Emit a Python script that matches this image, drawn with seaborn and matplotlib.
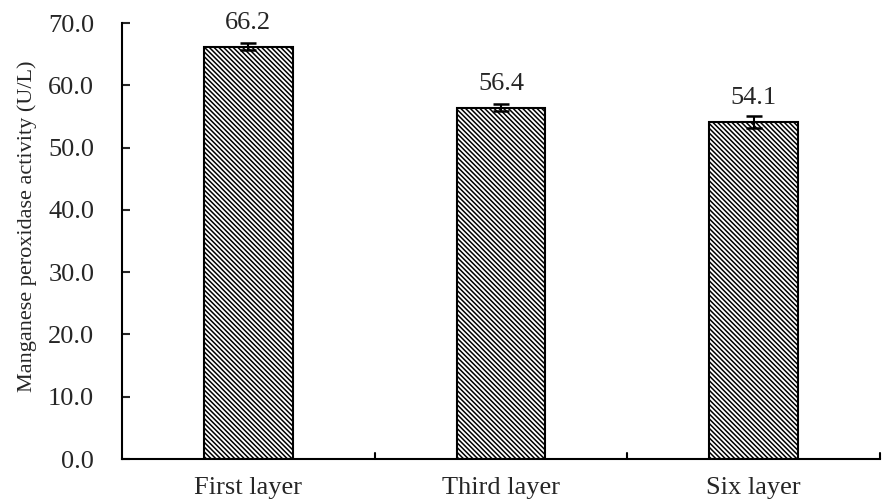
import matplotlib
matplotlib.use("Agg")
import matplotlib.pyplot as plt
import seaborn as sns
import pandas as pd
import numpy as np

categories = ["First layer", "Third layer", "Six layer"]
values = [66.2, 56.4, 54.1]
errors = [0.6, 0.6, 0.9]
yticks = [0, 10, 20, 30, 40, 50, 60, 70]

sns.set_style("white")
plt.rcParams['font.family'] = ['Liberation Serif', 'DejaVu Serif']
plt.rcParams['hatch.linewidth'] = 1.1

df = pd.DataFrame({"layer": categories, "activity": values})

fig = plt.figure(figsize=(8.88, 5.04), dpi=100)
ax = fig.add_axes([122/888, 1 - 459/504, 758/888, (459 - 23)/504])

sns.barplot(data=df, x="layer", y="activity", color="white", edgecolor="black",
            linewidth=1.5, width=0.35, ax=ax, errorbar=None)
for p in ax.patches:
    p.set_hatch("\\" * 7)
ax.errorbar(np.arange(len(values)), values, yerr=errors, fmt="none", ecolor="black",
            elinewidth=1.5, capsize=6, capthick=1.8)
for i, v in enumerate(values):
    ax.annotate(f"{v:.1f}", (i, v), xytext=(0, 13), textcoords="offset points",
                ha="center", va="baseline", fontsize=19)

ax.set_xlim(-0.5, 2.5)
ax.set_ylim(0, 70)
ax.set_yticks(yticks)
ax.set_yticklabels([f"{t:.1f}" for t in yticks], fontsize=19)
ax.set_xticks(range(len(categories)))
ax.set_xticklabels(categories, fontsize=19)
ax.tick_params(axis="x", length=0, pad=13)
ax.tick_params(axis="y", direction="in", length=6, width=1.5, pad=20, left=True)
for x in [0.5, 1.5, 2.5]:
    ax.plot([x, x], [0, 1.0], color="black", lw=1.5, clip_on=False)
ax.set_xlabel("")
ax.set_ylabel("Manganese peroxidase activity (U/L)", fontsize=16)
ax.yaxis.set_label_coords(-0.112, 0.534)
ax.spines["top"].set_visible(False)
ax.spines["right"].set_visible(False)
for s in ["left", "bottom"]:
    ax.spines[s].set_linewidth(1.5)
    ax.spines[s].set_color("black")

fig.savefig("out.png", dpi=100)
